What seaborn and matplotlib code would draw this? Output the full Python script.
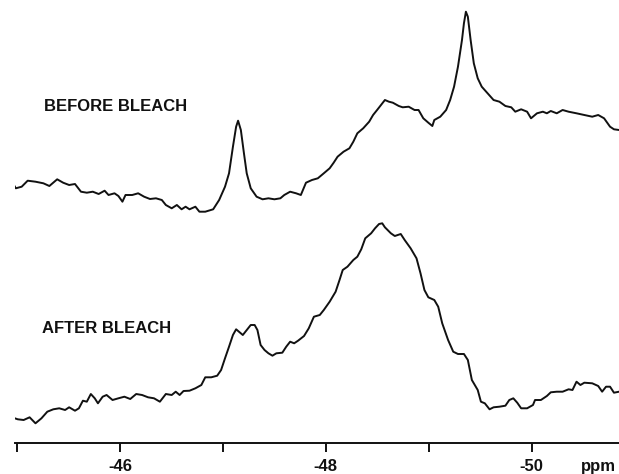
import numpy as np
import pandas as pd
import matplotlib
matplotlib.use('Agg')
import matplotlib.pyplot as plt
import seaborn as sns

# Spektrum sebelum bleach (ppm, intensitas relatif)
before_ppm = [-44.941, -44.988, -45.045, -45.103, -45.179, -45.256, -45.314, -45.390, -45.448, -45.506,
              -45.563, -45.621, -45.678, -45.736, -45.793, -45.851, -45.889, -45.947, -45.985, -46.024,
              -46.054, -46.119, -46.177, -46.235, -46.292, -46.350, -46.407, -46.446, -46.503, -46.553,
              -46.599, -46.638, -46.676, -46.733, -46.772, -46.829, -46.906, -46.964, -47.021, -47.060,
              -47.098, -47.129, -47.148, -47.175, -47.205, -47.232, -47.271, -47.328, -47.386, -47.443,
              -47.501, -47.559, -47.597, -47.654, -47.712, -47.758, -47.808, -47.866, -47.923, -47.981,
              -48.038, -48.077, -48.115, -48.173, -48.230, -48.268, -48.307, -48.364, -48.422, -48.460,
              -48.499, -48.537, -48.575, -48.614, -48.652, -48.710, -48.748, -48.806, -48.863, -48.902,
              -48.948, -48.997, -49.036, -49.055, -49.113, -49.170, -49.209, -49.247, -49.285, -49.324,
              -49.343, -49.362, -49.381, -49.408, -49.439, -49.477, -49.516, -49.573, -49.631, -49.688,
              -49.746, -49.803, -49.842, -49.899, -49.957, -49.995, -50.053, -50.110, -50.149, -50.187,
              -50.245, -50.302, -50.360, -50.437, -50.513, -50.590, -50.648, -50.705, -50.763, -50.801,
              -50.851]
before_int = [263, 254.7, 256.3, 262.3, 261.3, 259.7, 257, 263.7, 260.3, 258,
              259, 251.3, 250.3, 251.3, 249, 252.3, 248, 249.7, 247, 241.3,
              248, 248, 249.7, 246.3, 244, 244.7, 243, 238, 234.7, 238,
              233.7, 236.3, 233.7, 236.3, 231.3, 231.3, 233.7, 243, 256.3, 269.7,
              296.3, 316.3, 322.3, 313, 289.7, 269.7, 254.7, 246.3, 243.7, 244.7,
              243.7, 244.7, 248, 251.3, 249.7, 248, 260.3, 263, 264.7, 269.7,
              274.7, 280.3, 286.3, 291.3, 294.7, 301.3, 309.7, 314.7, 321.3, 328,
              333, 338, 343, 341.3, 340.3, 337, 335.7, 336.3, 333, 333,
              324.7, 320.3, 317, 323, 326.3, 333, 343, 356.3, 376.3, 403,
              419.7, 431.3, 426.3, 403, 379.7, 364.7, 356.3, 349.7, 343, 341.3,
              337, 335.7, 331.3, 333.7, 331.3, 324.7, 329.7, 331.3, 329.7, 332,
              329.7, 333, 331.3, 329.7, 328, 326.3, 328, 324.7, 316.3, 313.7,
              313]

# Spektrum sesudah bleach
after_ppm = [-44.949, -45.007, -45.064, -45.122, -45.179, -45.237, -45.294, -45.352, -45.410, -45.467,
             -45.506, -45.563, -45.601, -45.640, -45.678, -45.717, -45.755, -45.786, -45.832, -45.870,
             -45.928, -45.985, -46.043, -46.100, -46.158, -46.215, -46.273, -46.331, -46.388, -46.446,
             -46.503, -46.542, -46.580, -46.618, -46.676, -46.733, -46.791, -46.829, -46.887, -46.945,
             -46.983, -47.021, -47.060, -47.098, -47.129, -47.156, -47.194, -47.232, -47.271, -47.309,
             -47.336, -47.367, -47.405, -47.443, -47.482, -47.520, -47.578, -47.616, -47.654, -47.693,
             -47.731, -47.789, -47.835, -47.885, -47.942, -47.981, -48.038, -48.096, -48.134, -48.165,
             -48.211, -48.268, -48.307, -48.345, -48.384, -48.441, -48.479, -48.518, -48.549, -48.575,
             -48.633, -48.671, -48.729, -48.767, -48.825, -48.882, -48.921, -48.959, -48.997, -49.055,
             -49.093, -49.132, -49.189, -49.239, -49.285, -49.343, -49.381, -49.420, -49.477, -49.508,
             -49.546, -49.592, -49.631, -49.688, -49.746, -49.784, -49.823, -49.861, -49.899, -49.957,
             -50.014, -50.034, -50.091, -50.149, -50.187, -50.245, -50.302, -50.360, -50.398, -50.437,
             -50.475, -50.513, -50.590, -50.648, -50.686, -50.724, -50.763, -50.801, -50.851]
after_int = [25.7, 23.7, 23, 25.7, 19.7, 24.7, 31.3, 33.7, 34.7, 33,
             35.7, 32.3, 34.7, 42.3, 41.3, 49, 44.7, 39.7, 46.3, 48,
             43, 44.7, 46.3, 44, 49, 48, 45.7, 44.7, 41.3, 49,
             48, 51.3, 48, 52, 52.3, 54.7, 58, 65.7, 65.7, 67.3,
             73, 84.7, 96.3, 108, 113.7, 111.3, 108, 113, 118, 118,
             113, 98, 93, 89.7, 87.3, 89.7, 90.3, 96.3, 101.3, 99.7,
             102.3, 107, 114.7, 126.3, 128, 133, 141.3, 151.3, 163, 173,
             176.3, 183, 186.3, 193.7, 204.7, 209.7, 214.7, 219, 219.7, 215.7,
             209.7, 207, 209, 203, 194.7, 184.7, 169.7, 153, 145.7, 143,
             136.3, 119.7, 103, 91.3, 89, 89, 83, 63, 53, 41.3,
             39.7, 33.7, 35.7, 36.3, 37.3, 43, 44.7, 40.3, 34.7, 34.7,
             38, 43, 43, 47, 50.7, 51.3, 51.3, 53.7, 53, 61.3,
             58, 60.3, 59.7, 57, 51.3, 56.3, 56.3, 50.3, 51.3]

tick_pos = [-45, -46, -47, -48, -49, -50]
tick_labels = ['', '-46', '', '-48', '', '-50']

df_before = pd.DataFrame({'ppm': before_ppm, 'intensitas': before_int})
df_after = pd.DataFrame({'ppm': after_ppm, 'intensitas': after_int})

sns.set_style('white')
plt.rcParams['font.family'] = ['Liberation Sans', 'DejaVu Sans']
plt.rcParams['text.color'] = '#111111'
plt.rcParams['xtick.color'] = '#111111'

fig = plt.figure(figsize=(6.19, 4.74), dpi=100)
ax = fig.add_axes([15 / 619, 31 / 474, 604 / 619, 443 / 474])

sns.lineplot(data=df_before, x='ppm', y='intensitas', color='#111111', lw=1.4, ax=ax, sort=False)
sns.lineplot(data=df_after, x='ppm', y='intensitas', color='#111111', lw=1.4, ax=ax, sort=False)

ax.set_xlim(-44.98, -50.85)
ax.set_ylim(0, 443)

for s in ['left', 'top', 'right']:
    ax.spines[s].set_visible(False)
ax.spines['bottom'].set_color('#111111')
ax.spines['bottom'].set_linewidth(1.4)

ax.set_xticks(tick_pos)
ax.set_xticklabels(tick_labels, fontsize=12, fontweight='bold', color='#111111')
ax.tick_params(axis='x', bottom=True, direction='out', length=6.5, width=1.4,
               color='#111111', pad=5)
ax.set_yticks([])
ax.set_xlabel('')
ax.set_ylabel('')

fig.text(598 / 619, 1 - 467 / 474, 'ppm', fontsize=12, fontweight='bold', ha='center', va='center')
fig.text(44 / 619, 1 - 106.7 / 474, 'BEFORE BLEACH', fontsize=12, fontweight='bold', ha='left', va='center')
fig.text(42.5 / 619, 1 - 328.3 / 474, 'AFTER BLEACH', fontsize=12, fontweight='bold', ha='left', va='center')

fig.savefig('out.png', dpi=100)
